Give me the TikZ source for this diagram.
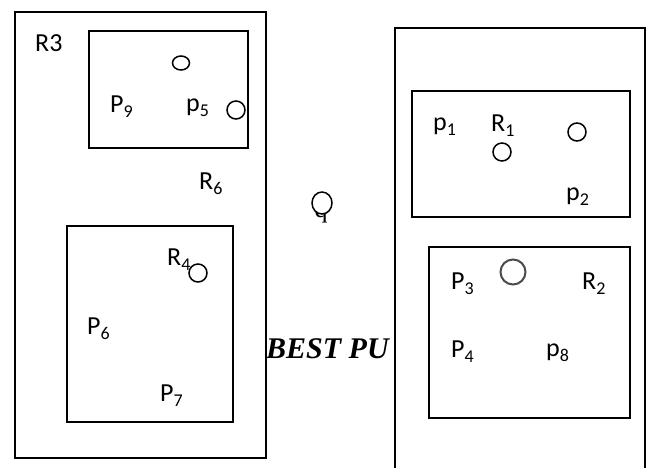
\documentclass[tikz,border=0pt]{standalone}
\usepackage{fontspec}
\usetikzlibrary{shapes.geometric}
\setmainfont{Carlito}
\newfontfamily\timesfont{Liberation Serif}
\tikzset{
  box/.style={draw=black, line width=1.6pt},
  lbl/.style={anchor=base west, inner sep=0pt, font=\fontsize{26}{28}\selectfont},
  ring/.style={draw=black, line width=1.5pt, fill=white},
}
\newcommand{\sbs}[1]{\raisebox{-0.2em}{\fontsize{18}{20}\selectfont #1}}
\begin{document}
\begin{tikzpicture}[x=1pt,y=-1pt]
\useasboundingbox (0,0) rectangle (648,467);
\fill[white] (0,0) rectangle (648,467);
% left outer
\draw[box] (15,12) rectangle (266,458);
\draw[box] (89,31) rectangle (248,148);
\draw[box] (67,226) rectangle (233,422);
% right outer (open at bottom)
\draw[box] (395,480) -- (395,28) -- (645,28) -- (645,480);
\draw[box] (412,91) rectangle (630,217);
\draw[box] (429,247) rectangle (630,418);
% labels left
\node[lbl] (r3) at (35,51) {R3};
\node[lbl] (p9) at (110,112) {P\sbs{9}};
\node[lbl] (p5) at (186,111) {p\sbs{5}};
\node[lbl] (r6) at (199,189) {R\sbs{6}};
\node[lbl] (r4) at (167,265) {R\sbs{4}};
\node[lbl] (p6) at (87,334) {P\sbs{6}};
\node[lbl] (p7) at (160,401) {P\sbs{7}};
% circles left
\node[ring, ellipse, minimum width=17pt, minimum height=14pt, inner sep=0pt] (c1) at (181,63) {};
\node[ring, circle, minimum size=18pt, inner sep=0pt] (c2) at (236,110) {};
\node[ring, circle, minimum size=18pt, inner sep=0pt] (c3) at (198,273) {};
% q
\node[anchor=base, inner sep=0pt, font=\timesfont\fontsize{26}{28}\selectfont] (q) at (321,217) {q};
\node[ring, ellipse, minimum width=20pt, minimum height=22pt, inner sep=0pt] (cq) at (322,203) {};
% BEST PU
\begin{scope}
\clip (266,300) rectangle (394.5,380);
\node[anchor=base west, inner sep=0pt, font=\timesfont\bfseries\itshape\fontsize{30}{32}\selectfont] (best) at (266,358) {BEST PU};
\end{scope}
% labels right
\node[lbl] (p1) at (433,130) {p\sbs{1}};
\node[lbl] (r1) at (491,131) {R\sbs{1}};
\node[lbl] (p2) at (566,200) {p\sbs{2}};
\node[lbl] (p3) at (451,289) {P\sbs{3}};
\node[lbl] (r2) at (582,289) {R\sbs{2}};
\node[lbl] (p4) at (451,357) {P\sbs{4}};
\node[lbl] (p8) at (546,356) {p\sbs{8}};
% circles right
\node[ring, circle, minimum size=18pt, inner sep=0pt] (c4) at (502,152) {};
\node[ring, circle, minimum size=18pt, inner sep=0pt] (c5) at (577,132) {};
\node[ring, draw=black!70, line width=2pt, circle, minimum size=25pt, inner sep=0pt] (c6) at (513,272) {};
\end{tikzpicture}
\end{document}
